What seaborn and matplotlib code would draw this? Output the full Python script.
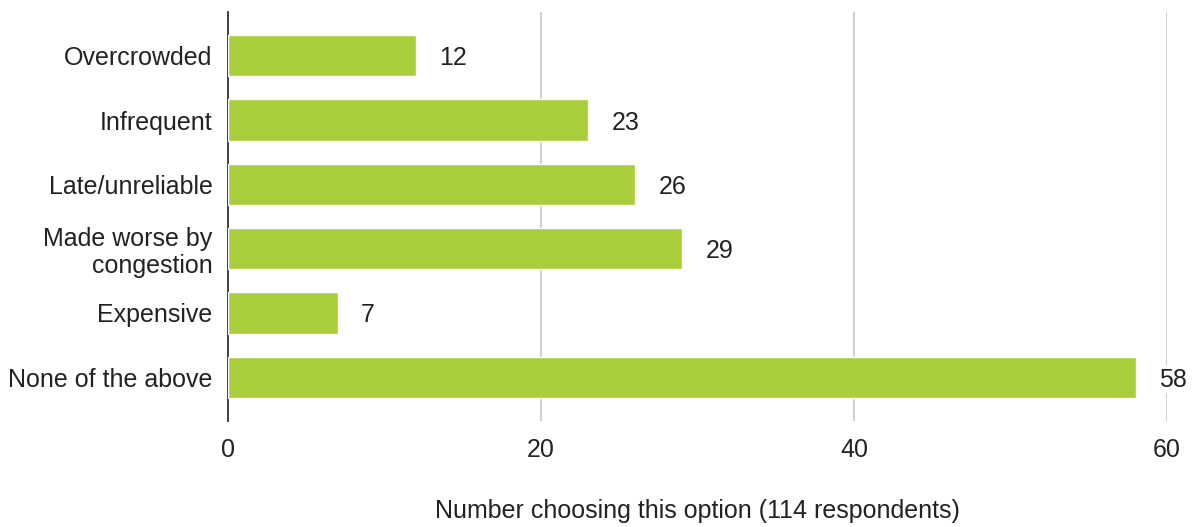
import matplotlib
matplotlib.use("Agg")
import matplotlib.pyplot as plt
import seaborn as sns
import pandas as pd

# survey answers
options = ["Overcrowded", "Infrequent", "Late/unreliable", "Made worse by\ncongestion",
           "Expensive", "None of the above"]
counts = [12, 23, 26, 29, 7, 58]
xticks = [0, 20, 40, 60]

df = pd.DataFrame({"option": options, "count": counts})

sns.set_style("white")
plt.rcParams["font.family"] = ["Liberation Sans", "DejaVu Sans"]
fs = 18

fig = plt.figure(figsize=(12.02, 5.27), dpi=100)
ax = fig.add_axes([0.1897, 0.2011, 0.7812, 0.7761])

sns.barplot(data=df, x="count", y="option", color="#a8ce3b", saturation=1,
            width=0.64, ax=ax, zorder=3)

# value labels to the right of each bar
labels = ax.bar_label(ax.containers[0], padding=17, fontsize=fs, color="#222222")
for t in labels:
    t.set_bbox(dict(facecolor="white", edgecolor="none", pad=1))
    t.set_zorder(4)
    t.set_verticalalignment("center_baseline")

ax.set_xlim(0, 60)
ax.set_ylim(5.68, -0.68)
ax.set_xticks(xticks)
ax.grid(axis="x", color="#cccccc", linewidth=1.3, zorder=0)
ax.set_axisbelow(True)
for s in ["top", "right", "bottom"]:
    ax.spines[s].set_visible(False)
ax.spines["left"].set_color("#333333")
ax.spines["left"].set_linewidth(1.3)
ax.tick_params(axis="both", length=0, labelsize=fs, labelcolor="#222222")
ax.tick_params(axis="x", pad=12)
ax.tick_params(axis="y", pad=11)
for t in ax.get_yticklabels():
    t.set_linespacing(1.15)
ax.set_ylabel("")
ax.set_xlabel("Number choosing this option (114 respondents)", fontsize=fs,
              color="#222222", labelpad=27)

fig.savefig("out.png", dpi=100)
